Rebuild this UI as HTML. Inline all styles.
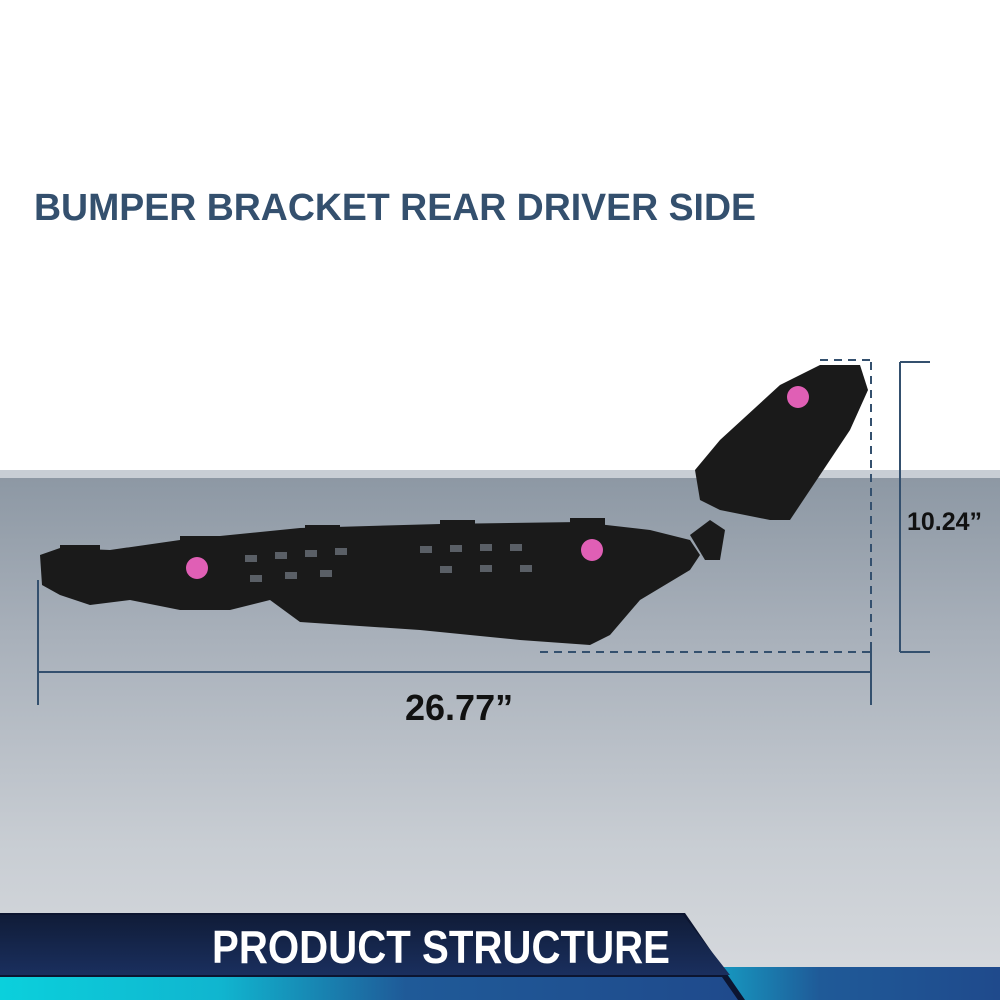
<!DOCTYPE html>
<html><head><style>
html,body{margin:0;padding:0;width:1000px;height:1000px;overflow:hidden;background:#fff}
</style></head><body>
<svg width="1000" height="1000" viewBox="0 0 1000 1000" xmlns="http://www.w3.org/2000/svg">
<defs>
<linearGradient id="bg" x1="0" y1="0" x2="0" y2="1">
<stop offset="0" stop-color="#8d98a4"/>
<stop offset="0.3" stop-color="#a8b0ba"/>
<stop offset="0.7" stop-color="#c8cdd3"/>
<stop offset="1" stop-color="#d8dbdf"/>
</linearGradient>
<linearGradient id="cy" x1="0" y1="0" x2="1" y2="0">
<stop offset="0" stop-color="#0bd0dc"/>
<stop offset="0.3" stop-color="#10b5cf"/>
<stop offset="0.55" stop-color="#1f5a98"/>
<stop offset="1" stop-color="#1f4a8c"/>
</linearGradient>
<linearGradient id="cy2" x1="0" y1="0" x2="1" y2="0">
<stop offset="0" stop-color="#14a5c8"/>
<stop offset="0.4" stop-color="#1f5a98"/>
<stop offset="1" stop-color="#1f4a8c"/>
</linearGradient>
<linearGradient id="navy" x1="0" y1="0" x2="0" y2="1">
<stop offset="0" stop-color="#101c38"/>
<stop offset="1" stop-color="#1a2f5e"/>
</linearGradient>
</defs>
<rect x="0" y="0" width="1000" height="470" fill="#fff"/>
<rect x="0" y="470" width="1000" height="12" fill="#c8ced5"/>
<rect x="0" y="478" width="1000" height="522" fill="url(#bg)"/>
<text x="34" y="220" font-family="Liberation Sans, sans-serif" font-weight="bold" font-size="38" fill="#34506e" textLength="722" lengthAdjust="spacingAndGlyphs">BUMPER BRACKET REAR DRIVER SIDE</text>
<!-- bottom -->
<rect x="700" y="967" width="300" height="33" fill="url(#cy2)"/>
<polygon points="0,913 685,913 745,1000 0,1000" fill="#0c1530"/>
<polygon points="0,915 683,915 730,975 0,975" fill="url(#navy)"/>
<polygon points="0,977 722,977 738,1000 0,1000" fill="url(#cy)"/>
<text x="212" y="963" font-family="Liberation Sans, sans-serif" font-weight="bold" font-size="46" fill="#fff" textLength="458" lengthAdjust="spacingAndGlyphs">PRODUCT STRUCTURE</text>
<!-- bracket -->
<g fill="#1a1a1a">
<polygon points="40,555 60,548 110,550 180,540 300,528 440,524 580,522 650,530 690,540 700,555 690,570 640,600 610,635 590,645 520,640 420,630 300,622 270,600 230,610 180,610 130,600 90,605 60,595 42,585"/>
<polygon points="695,470 720,440 780,385 820,365 860,365 868,390 850,430 790,520 770,520 720,510 700,500"/>
<polygon points="690,535 710,520 725,530 720,560 705,560"/>
<rect x="60" y="545" width="40" height="12"/><rect x="180" y="536" width="40" height="12"/>
<rect x="305" y="525" width="35" height="12"/><rect x="440" y="520" width="35" height="12"/><rect x="570" y="518" width="35" height="12"/>
</g>
<g fill="#5a5f66">
<rect x="245" y="555" width="12" height="7"/><rect x="275" y="552" width="12" height="7"/><rect x="305" y="550" width="12" height="7"/><rect x="335" y="548" width="12" height="7"/><rect x="420" y="546" width="12" height="7"/><rect x="450" y="545" width="12" height="7"/><rect x="480" y="544" width="12" height="7"/><rect x="510" y="544" width="12" height="7"/>
<rect x="250" y="575" width="12" height="7"/><rect x="285" y="572" width="12" height="7"/><rect x="320" y="570" width="12" height="7"/><rect x="440" y="566" width="12" height="7"/><rect x="480" y="565" width="12" height="7"/><rect x="520" y="565" width="12" height="7"/>
</g>
<g fill="#e05fb5"><circle cx="197" cy="568" r="11"/><circle cx="592" cy="550" r="11"/><circle cx="798" cy="397" r="11"/></g>
<!-- dimensions -->
<g stroke="#34506e" stroke-width="2" fill="none">
<line x1="38" y1="580" x2="38" y2="705"/>
<line x1="871" y1="650" x2="871" y2="705"/>
<line x1="38" y1="672" x2="871" y2="672"/>
<line x1="900" y1="362" x2="930" y2="362"/>
<line x1="900" y1="652" x2="930" y2="652"/>
<line x1="900" y1="362" x2="900" y2="652"/>
<line x1="871" y1="362" x2="871" y2="652" stroke-dasharray="8,6"/>
<line x1="540" y1="652" x2="871" y2="652" stroke-dasharray="8,6"/>
<line x1="820" y1="360" x2="871" y2="360" stroke-dasharray="8,6"/>
</g>
<text x="405" y="720" font-family="Liberation Sans, sans-serif" font-weight="bold" font-size="36" fill="#111">26.77”</text>
<text x="907" y="530" font-family="Liberation Sans, sans-serif" font-weight="bold" font-size="25" fill="#111">10.24”</text>
</svg>
</body></html>
